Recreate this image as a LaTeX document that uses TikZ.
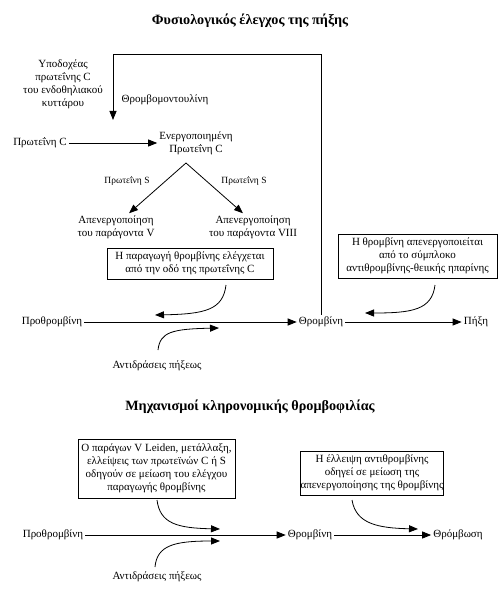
\documentclass[tikz,border=0pt]{standalone}
\usepackage{fontspec}
\setmainfont{Liberation Serif}
\usetikzlibrary{arrows.meta}
\begin{document}
\begin{tikzpicture}[x=1pt,y=-1pt,
  every node/.style={font=\fontsize{11}{13}\selectfont, align=center, inner sep=2pt},
  lab/.style={font=\fontsize{9.5}{11}\selectfont},
  ttl/.style={font=\fontsize{14.2}{17}\selectfont\bfseries},
  tbox/.style={draw, line width=0.8pt, inner sep=0pt},
  arr/.style={line width=0.8pt, -{Triangle[length=9pt,width=7pt]}},
  ln/.style={line width=0.8pt}]
\useasboundingbox (0,0) rectangle (500,596);
\fill[white] (0,0) rectangle (500,596);

% ---------- Diagram 1 ----------
\node[ttl] (t1) at (250,21) {Φυσιολογικός έλεγχος της πήξης};
\node (rec) at (63,84.5) {Υποδοχέας\\πρωτεΐνης C\\του ενδοθηλιακού\\κυττάρου};
\node (tm) at (165,100) {Θρομβομοντουλίνη};
\node (pc) at (40,143) {Πρωτεΐνη C};
\node (apc) at (196,143) {Ενεργοποιημένη\\Πρωτεΐνη C};
\node[lab] (ps1) at (127,181) {Πρωτεΐνη S};
\node[lab] (ps2) at (244,181) {Πρωτεΐνη S};
\node (inv) at (116,227) {Απενεργοποίηση\\του παράγοντα V};
\node (inviii) at (253,227) {Απενεργοποίηση\\του παράγοντα VIII};
\node[tbox, minimum width=166pt, minimum height=31pt] (b1) at (190,263.5)
  {Η παραγωγή θρομβίνης ελέγχεται\\από την οδό της πρωτεΐνης C};
\node[tbox, minimum width=159pt, minimum height=44pt] (b2) at (417.5,256)
  {Η θρομβίνη απενεργοποιείται\\από το σύμπλοκο\\αντιθρομβίνης-θειικής ηπαρίνης};
\node (pro1) at (52,322) {Προθρομβίνη};
\node (thr1) at (321,322) {Θρομβίνη};
\node (pix) at (476,322) {Πήξη};
\node (re1) at (157,366) {Αντιδράσεις πήξεως};

\coordinate (tl) at (113,54);
\coordinate (tmtip) at (113,120);
\coordinate (apex) at (186,163);
\draw[arr] (thr1.north) |- (tl) -- (tmtip);
\draw[arr] (pc.east) -- (148,143 -| apc.west) coordinate (apcin);
\draw[arr] (apex) -- ([xshift=13pt]inv.north);
\draw[arr] (apex) -- ([xshift=-10pt]inviii.north);
\draw[arr] (pro1.east) -- (thr1.west);
\draw[arr] (thr1.east) -- (pix.west);
\coordinate (c1a) at (226,285);
\coordinate (c1b) at (155,315);
\draw[arr] (c1a) .. controls (223,310) and (205,314) .. (c1b);
\coordinate (c2a) at (158,350);
\coordinate (c2b) at (219,328);
\draw[arr] (c2a) .. controls (160,332) and (172,329) .. (c2b);
\coordinate (c3a) at (435,285);
\coordinate (c3b) at (365,313);
\draw[arr] (c3a) .. controls (432,310) and (412,313) .. (c3b);

% ---------- Diagram 2 ----------
\node[ttl] (t2) at (250,407) {Μηχανισμοί κληρονομικής θρομβοφιλίας};
\node[tbox, minimum width=157pt, minimum height=59pt] (b3) at (156.5,468.5)
  {Ο παράγων V Leiden, μετάλλαξη,\\ελλείψεις των πρωτεϊνών C ή S\\οδηγούν σε μείωση του ελέγχου\\παραγωγής θρομβίνης};
\node[tbox, minimum width=140pt, minimum height=44pt] (b4) at (372,473)
  {Η έλλειψη αντιθρομβίνης\\οδηγεί σε μείωση της\\απενεργοποίησης της θρομβίνης};
\node (pro2) at (53,535) {Προθρομβίνη};
\node (thr2) at (310,535) {Θρομβίνη};
\node (thb) at (458,535) {Θρόμβωση};
\node (re2) at (157,577) {Αντιδράσεις πήξεως};
\draw[arr] (pro2.east) -- (thr2.west);
\draw[arr] (thr2.east) -- (thb.west);
\coordinate (d1a) at (157,500);
\coordinate (d1b) at (220,529);
\draw[arr] (d1a) .. controls (160,524) and (178,528) .. (d1b);
\coordinate (d2a) at (155,567);
\coordinate (d2b) at (220,541);
\draw[arr] (d2a) .. controls (157,545) and (175,541) .. (d2b);
\coordinate (d3a) at (352,500);
\coordinate (d3b) at (418,529);
\draw[arr] (d3a) .. controls (356,524) and (378,528) .. (d3b);
\end{tikzpicture}
\end{document}
